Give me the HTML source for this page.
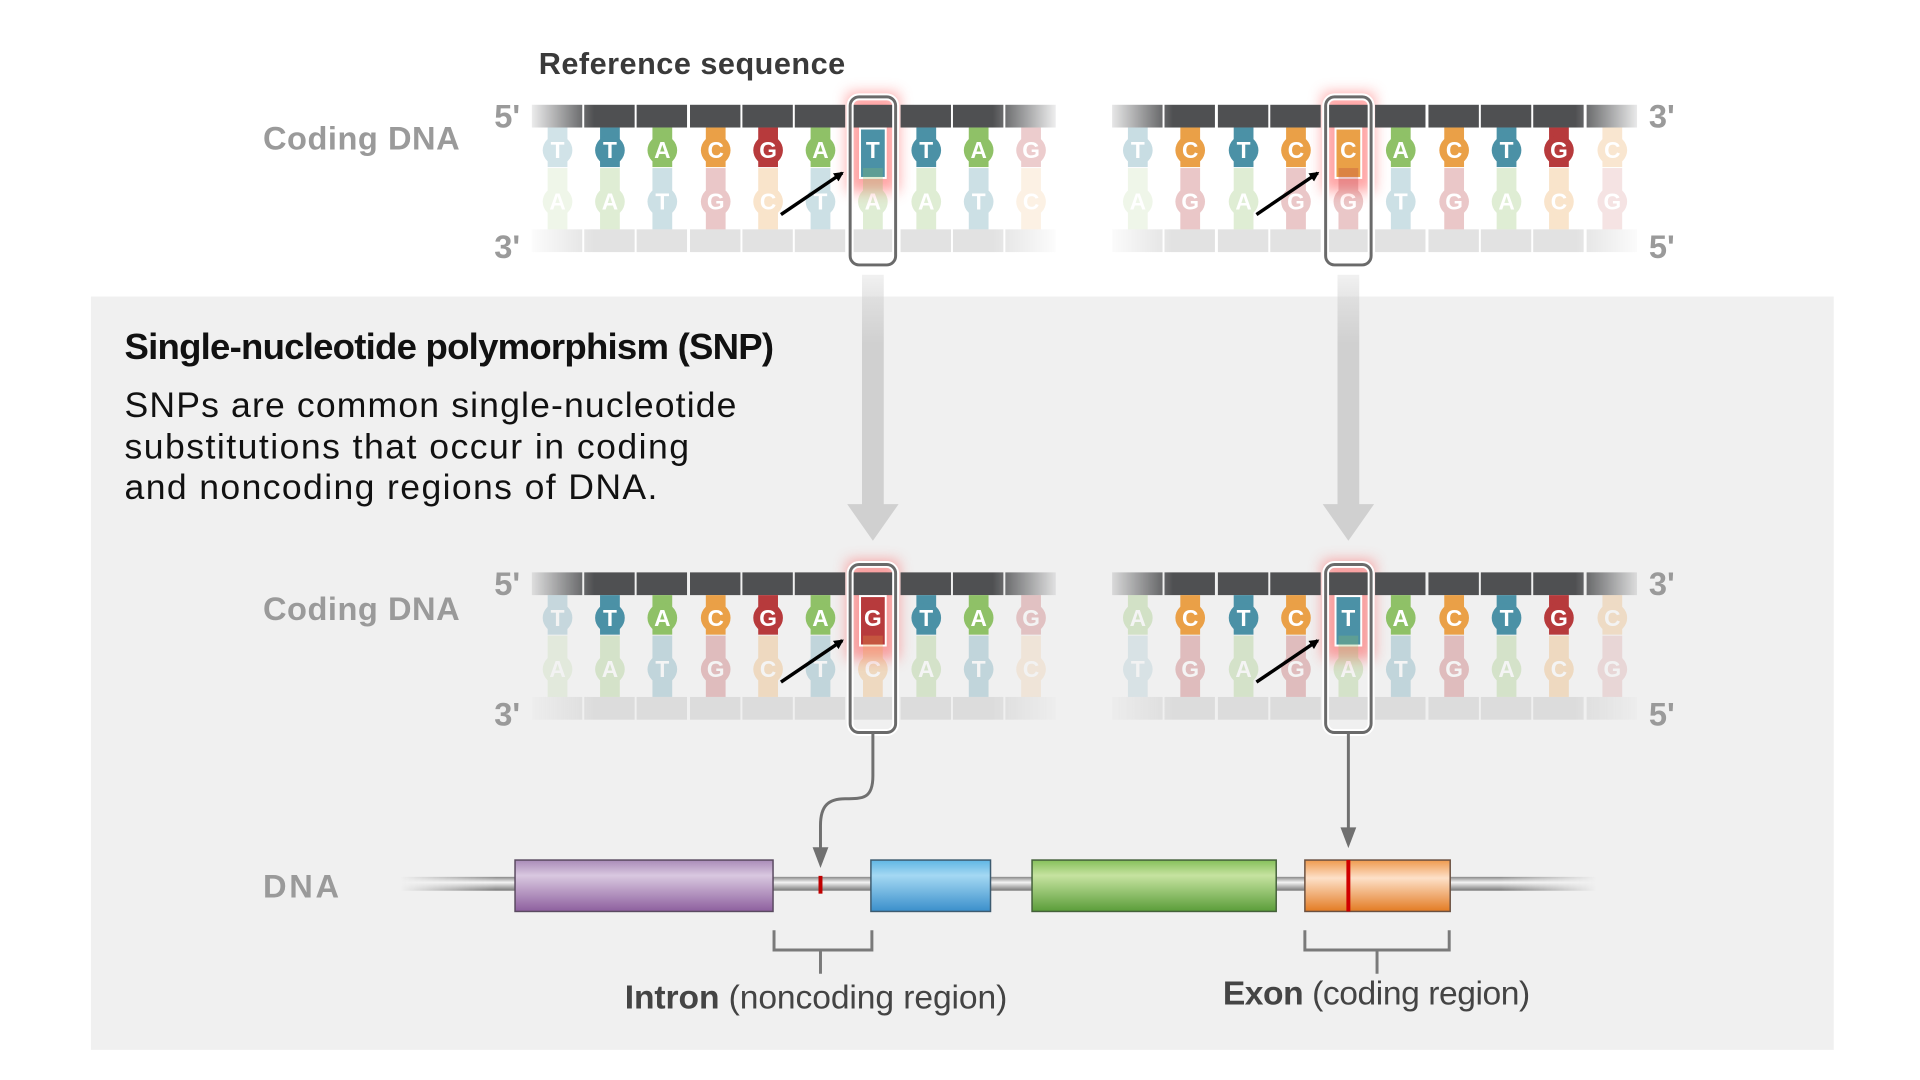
<!DOCTYPE html>
<html><head><meta charset="utf-8"><style>
html,body{margin:0;padding:0;background:#fff;}
svg{display:block;font-family:"Liberation Sans",sans-serif;}
.b{fill:#fff;font-weight:bold;font-size:23px;text-anchor:middle;}
.lab{fill:#9a9a9a;font-size:33px;font-weight:bold;}
</style></head><body>
<svg width="1920" height="1080" viewBox="0 0 1942.25 1092.5" preserveAspectRatio="none" xmlns="http://www.w3.org/2000/svg">
<defs>
<linearGradient id="fade" x1="0" x2="1" y1="0" y2="0">
<stop offset="0" stop-color="#fff" stop-opacity="0"/><stop offset="0.13" stop-color="#fff" stop-opacity="1"/>
<stop offset="0.87" stop-color="#fff" stop-opacity="1"/><stop offset="1" stop-color="#fff" stop-opacity="0"/></linearGradient>
<mask id="mL" maskUnits="userSpaceOnUse" x="0" y="-20" width="1920" height="200"><rect x="530" y="-20" width="545" height="200" fill="url(#fade)"/></mask>
<mask id="mR" maskUnits="userSpaceOnUse" x="0" y="-20" width="1920" height="200"><rect x="1115" y="-20" width="550" height="200" fill="url(#fade)"/></mask>
<filter id="blur" x="-1" y="-1" width="3" height="3"><feGaussianBlur stdDeviation="7"/></filter>
<linearGradient id="tube" x1="0" y1="0" x2="0" y2="1"><stop offset="0" stop-color="#888"/><stop offset="0.4" stop-color="#f4f4f4"/><stop offset="1" stop-color="#777"/></linearGradient>
<linearGradient id="tubeF" x1="0" x2="1"><stop offset="0" stop-color="#fff" stop-opacity="0"/><stop offset="0.08" stop-color="#fff"/><stop offset="0.92" stop-color="#fff"/><stop offset="1" stop-color="#fff" stop-opacity="0"/></linearGradient>
<mask id="mT" maskUnits="userSpaceOnUse" x="0" y="0" width="1920" height="1080"><rect x="405" y="870" width="1210" height="50" fill="url(#tubeF)"/></mask>
<linearGradient id="pu" x1="0" y1="0" x2="0" y2="1"><stop offset="0" stop-color="#a98bb8"/><stop offset="0.3" stop-color="#d9c8e0"/><stop offset="1" stop-color="#8d5f9e"/></linearGradient>
<linearGradient id="bl" x1="0" y1="0" x2="0" y2="1"><stop offset="0" stop-color="#5fb6e4"/><stop offset="0.3" stop-color="#a4d8f3"/><stop offset="1" stop-color="#3a8fcb"/></linearGradient>
<linearGradient id="gr" x1="0" y1="0" x2="0" y2="1"><stop offset="0" stop-color="#86c05a"/><stop offset="0.3" stop-color="#c6e3a0"/><stop offset="1" stop-color="#5a9d39"/></linearGradient>
<linearGradient id="or" x1="0" y1="0" x2="0" y2="1"><stop offset="0" stop-color="#ef9a4e"/><stop offset="0.35" stop-color="#fde0c8"/><stop offset="1" stop-color="#e37b23"/></linearGradient>
<linearGradient id="shaft" x1="0" y1="0" x2="0" y2="1"><stop offset="0" stop-color="#d0d0d0" stop-opacity="0.3"/><stop offset="0.3" stop-color="#d0d0d0"/></linearGradient>
<marker id="ah" markerWidth="10" markerHeight="10" refX="8" refY="5" orient="auto" markerUnits="userSpaceOnUse"><path d="M0,0 L10,5 L0,10 z" fill="#000"/></marker>
</defs>

<rect x="92" y="300" width="1763" height="762" fill="#f0f0f0"/>

<text x="545" y="75" font-size="31" font-weight="bold" fill="#3a3a3a" textLength="310">Reference sequence</text>
<text x="266" y="151" class="lab" textLength="199" fill="#8c8c8c">Coding DNA</text>
<text x="266" y="627" class="lab" textLength="199" fill="#8c8c8c">Coding DNA</text>
<text x="266" y="908" class="lab" textLength="77" fill="#8c8c8c">DNA</text>

<text x="126" y="363" font-size="37" font-weight="bold" fill="#111" textLength="657">Single-nucleotide polymorphism (SNP)</text>
<text x="126" y="422" font-size="36" fill="#111" textLength="619">SNPs are common single-nucleotide</text>
<text x="126" y="464" font-size="36" fill="#111" textLength="571">substitutions that occur in coding</text>
<text x="126" y="505" font-size="36" fill="#111" textLength="539">and noncoding regions of DNA.</text>

<rect x="872" y="278" width="22" height="234" fill="url(#shaft)"/>
<polygon points="857,510 909,510 883,547" fill="#d0d0d0"/>
<rect x="1353" y="278" width="22" height="234" fill="url(#shaft)"/>
<polygon points="1338,510 1390,510 1364,547" fill="#d0d0d0"/>

<g transform="translate(0,106)">
<rect x="857" y="-12" width="52" height="100" fill="#ff5a5a" opacity="0.55" filter="url(#blur)"/>
<rect x="1338" y="-12" width="52" height="100" fill="#ff5a5a" opacity="0.55" filter="url(#blur)"/>
<g mask="url(#mL)" fill="#4f5052">
<rect x="538" y="0" width="51" height="23"/><rect x="591" y="0" width="51" height="23"/><rect x="644" y="0" width="51" height="23"/><rect x="698" y="0" width="51" height="23"/><rect x="751" y="0" width="51" height="23"/><rect x="804" y="0" width="51" height="23"/><rect x="857" y="0" width="51" height="23"/><rect x="911" y="0" width="51" height="23"/><rect x="964" y="0" width="51" height="23"/><rect x="1017" y="0" width="51" height="23"/>
</g>
<g mask="url(#mL)" fill="#e2e2e2">
<rect x="538" y="126" width="51" height="23"/><rect x="591" y="126" width="51" height="23"/><rect x="644" y="126" width="51" height="23"/><rect x="698" y="126" width="51" height="23"/><rect x="751" y="126" width="51" height="23"/><rect x="804" y="126" width="51" height="23"/><rect x="857" y="126" width="51" height="23"/><rect x="911" y="126" width="51" height="23"/><rect x="964" y="126" width="51" height="23"/><rect x="1017" y="126" width="51" height="23"/>
</g>
<g mask="url(#mR)" fill="#4f5052">
<rect x="1125" y="0" width="51" height="23"/><rect x="1178" y="0" width="51" height="23"/><rect x="1232" y="0" width="51" height="23"/><rect x="1285" y="0" width="51" height="23"/><rect x="1338" y="0" width="51" height="23"/><rect x="1391" y="0" width="51" height="23"/><rect x="1445" y="0" width="51" height="23"/><rect x="1498" y="0" width="51" height="23"/><rect x="1551" y="0" width="51" height="23"/><rect x="1605" y="0" width="51" height="23"/>
</g>
<g mask="url(#mR)" fill="#e2e2e2">
<rect x="1125" y="126" width="51" height="23"/><rect x="1178" y="126" width="51" height="23"/><rect x="1232" y="126" width="51" height="23"/><rect x="1285" y="126" width="51" height="23"/><rect x="1338" y="126" width="51" height="23"/><rect x="1391" y="126" width="51" height="23"/><rect x="1445" y="126" width="51" height="23"/><rect x="1498" y="126" width="51" height="23"/><rect x="1551" y="126" width="51" height="23"/><rect x="1605" y="126" width="51" height="23"/>
</g>
<g opacity="0.25"><rect x="554" y="23" width="20" height="40" fill="#4b91a6"/><circle cx="564" cy="46" r="15" fill="#4b91a6"/><text x="564" y="54" class="b">T</text></g>
<g><rect x="607" y="23" width="20" height="40" fill="#4b91a6"/><circle cx="617" cy="46" r="15" fill="#4b91a6"/><text x="617" y="54" class="b">T</text></g>
<g><rect x="660" y="23" width="20" height="40" fill="#8fc167"/><circle cx="670" cy="46" r="15" fill="#8fc167"/><text x="670" y="54" class="b">A</text></g>
<g><rect x="714" y="23" width="20" height="40" fill="#eaa047"/><circle cx="724" cy="46" r="15" fill="#eaa047"/><text x="724" y="54" class="b">C</text></g>
<g><rect x="767" y="23" width="20" height="40" fill="#b73a3c"/><circle cx="777" cy="46" r="15" fill="#b73a3c"/><text x="777" y="54" class="b">G</text></g>
<g><rect x="820" y="23" width="20" height="40" fill="#8fc167"/><circle cx="830" cy="46" r="15" fill="#8fc167"/><text x="830" y="54" class="b">A</text></g>
<g><rect x="870" y="24" width="26" height="50" fill="#4b91a6" stroke="#fff" stroke-width="2"/><text x="883" y="54" class="b">T</text></g>
<g><rect x="927" y="23" width="20" height="40" fill="#4b91a6"/><circle cx="937" cy="46" r="15" fill="#4b91a6"/><text x="937" y="54" class="b">T</text></g>
<g><rect x="980" y="23" width="20" height="40" fill="#8fc167"/><circle cx="990" cy="46" r="15" fill="#8fc167"/><text x="990" y="54" class="b">A</text></g>
<g opacity="0.25"><rect x="1033" y="23" width="20" height="40" fill="#b73a3c"/><circle cx="1043" cy="46" r="15" fill="#b73a3c"/><text x="1043" y="54" class="b">G</text></g>
<g opacity="0.28">
<g opacity="0.5"><rect x="554" y="64" width="20" height="62" fill="#8fc167"/><circle cx="564" cy="98" r="15" fill="#8fc167"/><text x="564" y="106" class="b">A</text></g>
<rect x="607" y="64" width="20" height="62" fill="#8fc167"/><circle cx="617" cy="98" r="15" fill="#8fc167"/><text x="617" y="106" class="b">A</text>
<rect x="660" y="64" width="20" height="62" fill="#4b91a6"/><circle cx="670" cy="98" r="15" fill="#4b91a6"/><text x="670" y="106" class="b">T</text>
<rect x="714" y="64" width="20" height="62" fill="#b73a3c"/><circle cx="724" cy="98" r="15" fill="#b73a3c"/><text x="724" y="106" class="b">G</text>
<rect x="767" y="64" width="20" height="62" fill="#eaa047"/><circle cx="777" cy="98" r="15" fill="#eaa047"/><text x="777" y="106" class="b">C</text>
<rect x="820" y="64" width="20" height="62" fill="#4b91a6"/><circle cx="830" cy="98" r="15" fill="#4b91a6"/><text x="830" y="106" class="b">T</text>
<rect x="873" y="64" width="20" height="62" fill="#8fc167"/><circle cx="883" cy="98" r="15" fill="#8fc167"/><text x="883" y="106" class="b">A</text>
<rect x="927" y="64" width="20" height="62" fill="#8fc167"/><circle cx="937" cy="98" r="15" fill="#8fc167"/><text x="937" y="106" class="b">A</text>
<rect x="980" y="64" width="20" height="62" fill="#4b91a6"/><circle cx="990" cy="98" r="15" fill="#4b91a6"/><text x="990" y="106" class="b">T</text>
<g opacity="0.5"><rect x="1033" y="64" width="20" height="62" fill="#eaa047"/><circle cx="1043" cy="98" r="15" fill="#eaa047"/><text x="1043" y="106" class="b">C</text></g>
</g>
<g opacity="0.3"><rect x="1141" y="23" width="20" height="40" fill="#4b91a6"/><circle cx="1151" cy="46" r="15" fill="#4b91a6"/><text x="1151" y="54" class="b">T</text></g>
<g><rect x="1194" y="23" width="20" height="40" fill="#eaa047"/><circle cx="1204" cy="46" r="15" fill="#eaa047"/><text x="1204" y="54" class="b">C</text></g>
<g><rect x="1248" y="23" width="20" height="40" fill="#4b91a6"/><circle cx="1258" cy="46" r="15" fill="#4b91a6"/><text x="1258" y="54" class="b">T</text></g>
<g><rect x="1301" y="23" width="20" height="40" fill="#eaa047"/><circle cx="1311" cy="46" r="15" fill="#eaa047"/><text x="1311" y="54" class="b">C</text></g>
<g><rect x="1351" y="24" width="26" height="50" fill="#eaa047" stroke="#fff" stroke-width="2"/><text x="1364" y="54" class="b">C</text></g>
<g><rect x="1407" y="23" width="20" height="40" fill="#8fc167"/><circle cx="1417" cy="46" r="15" fill="#8fc167"/><text x="1417" y="54" class="b">A</text></g>
<g><rect x="1461" y="23" width="20" height="40" fill="#eaa047"/><circle cx="1471" cy="46" r="15" fill="#eaa047"/><text x="1471" y="54" class="b">C</text></g>
<g><rect x="1514" y="23" width="20" height="40" fill="#4b91a6"/><circle cx="1524" cy="46" r="15" fill="#4b91a6"/><text x="1524" y="54" class="b">T</text></g>
<g><rect x="1567" y="23" width="20" height="40" fill="#b73a3c"/><circle cx="1577" cy="46" r="15" fill="#b73a3c"/><text x="1577" y="54" class="b">G</text></g>
<g opacity="0.25"><rect x="1621" y="23" width="20" height="40" fill="#eaa047"/><circle cx="1631" cy="46" r="15" fill="#eaa047"/><text x="1631" y="54" class="b">C</text></g>
<g opacity="0.28">
<g opacity="0.5"><rect x="1141" y="64" width="20" height="62" fill="#8fc167"/><circle cx="1151" cy="98" r="15" fill="#8fc167"/><text x="1151" y="106" class="b">A</text></g>
<rect x="1194" y="64" width="20" height="62" fill="#b73a3c"/><circle cx="1204" cy="98" r="15" fill="#b73a3c"/><text x="1204" y="106" class="b">G</text>
<rect x="1248" y="64" width="20" height="62" fill="#8fc167"/><circle cx="1258" cy="98" r="15" fill="#8fc167"/><text x="1258" y="106" class="b">A</text>
<rect x="1301" y="64" width="20" height="62" fill="#b73a3c"/><circle cx="1311" cy="98" r="15" fill="#b73a3c"/><text x="1311" y="106" class="b">G</text>
<rect x="1354" y="64" width="20" height="62" fill="#b73a3c"/><circle cx="1364" cy="98" r="15" fill="#b73a3c"/><text x="1364" y="106" class="b">G</text>
<rect x="1407" y="64" width="20" height="62" fill="#4b91a6"/><circle cx="1417" cy="98" r="15" fill="#4b91a6"/><text x="1417" y="106" class="b">T</text>
<rect x="1461" y="64" width="20" height="62" fill="#b73a3c"/><circle cx="1471" cy="98" r="15" fill="#b73a3c"/><text x="1471" y="106" class="b">G</text>
<rect x="1514" y="64" width="20" height="62" fill="#8fc167"/><circle cx="1524" cy="98" r="15" fill="#8fc167"/><text x="1524" y="106" class="b">A</text>
<rect x="1567" y="64" width="20" height="62" fill="#eaa047"/><circle cx="1577" cy="98" r="15" fill="#eaa047"/><text x="1577" y="106" class="b">C</text>
<g opacity="0.5"><rect x="1621" y="64" width="20" height="62" fill="#b73a3c"/><circle cx="1631" cy="98" r="15" fill="#b73a3c"/><text x="1631" y="106" class="b">G</text></g>
</g>
<rect x="860" y="-8" width="46" height="170" rx="9" fill="none" stroke="#fff" stroke-width="7"/>
<rect x="860" y="-8" width="46" height="170" rx="9" fill="none" stroke="#6a6a6a" stroke-width="3"/>
<rect x="1341" y="-8" width="46" height="170" rx="9" fill="none" stroke="#fff" stroke-width="7"/>
<rect x="1341" y="-8" width="46" height="170" rx="9" fill="none" stroke="#6a6a6a" stroke-width="3"/>
<line x1="790" y1="111" x2="852" y2="69" stroke="#000" stroke-width="3.5" marker-end="url(#ah)"/>
<line x1="1271" y1="111" x2="1333" y2="69" stroke="#000" stroke-width="3.5" marker-end="url(#ah)"/>
<text x="500" y="23" class="lab" font-size="32">5'</text>
<text x="500" y="155" class="lab" font-size="32">3'</text>
<text x="1668" y="23" class="lab" font-size="32">3'</text>
<text x="1668" y="155" class="lab" font-size="32">5'</text>
</g>

<g transform="translate(0,579)">
<rect x="857" y="-12" width="52" height="100" fill="#ff5a5a" opacity="0.55" filter="url(#blur)"/>
<rect x="1338" y="-12" width="52" height="100" fill="#ff5a5a" opacity="0.55" filter="url(#blur)"/>
<g mask="url(#mL)" fill="#4f5052">
<rect x="538" y="0" width="51" height="23"/><rect x="591" y="0" width="51" height="23"/><rect x="644" y="0" width="51" height="23"/><rect x="698" y="0" width="51" height="23"/><rect x="751" y="0" width="51" height="23"/><rect x="804" y="0" width="51" height="23"/><rect x="857" y="0" width="51" height="23"/><rect x="911" y="0" width="51" height="23"/><rect x="964" y="0" width="51" height="23"/><rect x="1017" y="0" width="51" height="23"/>
</g>
<g mask="url(#mL)" fill="#dcdcdc">
<rect x="538" y="126" width="51" height="23"/><rect x="591" y="126" width="51" height="23"/><rect x="644" y="126" width="51" height="23"/><rect x="698" y="126" width="51" height="23"/><rect x="751" y="126" width="51" height="23"/><rect x="804" y="126" width="51" height="23"/><rect x="857" y="126" width="51" height="23"/><rect x="911" y="126" width="51" height="23"/><rect x="964" y="126" width="51" height="23"/><rect x="1017" y="126" width="51" height="23"/>
</g>
<g mask="url(#mR)" fill="#4f5052">
<rect x="1125" y="0" width="51" height="23"/><rect x="1178" y="0" width="51" height="23"/><rect x="1232" y="0" width="51" height="23"/><rect x="1285" y="0" width="51" height="23"/><rect x="1338" y="0" width="51" height="23"/><rect x="1391" y="0" width="51" height="23"/><rect x="1445" y="0" width="51" height="23"/><rect x="1498" y="0" width="51" height="23"/><rect x="1551" y="0" width="51" height="23"/><rect x="1605" y="0" width="51" height="23"/>
</g>
<g mask="url(#mR)" fill="#dcdcdc">
<rect x="1125" y="126" width="51" height="23"/><rect x="1178" y="126" width="51" height="23"/><rect x="1232" y="126" width="51" height="23"/><rect x="1285" y="126" width="51" height="23"/><rect x="1338" y="126" width="51" height="23"/><rect x="1391" y="126" width="51" height="23"/><rect x="1445" y="126" width="51" height="23"/><rect x="1498" y="126" width="51" height="23"/><rect x="1551" y="126" width="51" height="23"/><rect x="1605" y="126" width="51" height="23"/>
</g>
<g opacity="0.25"><rect x="554" y="23" width="20" height="40" fill="#4b91a6"/><circle cx="564" cy="46" r="15" fill="#4b91a6"/><text x="564" y="54" class="b">T</text></g>
<g><rect x="607" y="23" width="20" height="40" fill="#4b91a6"/><circle cx="617" cy="46" r="15" fill="#4b91a6"/><text x="617" y="54" class="b">T</text></g>
<g><rect x="660" y="23" width="20" height="40" fill="#8fc167"/><circle cx="670" cy="46" r="15" fill="#8fc167"/><text x="670" y="54" class="b">A</text></g>
<g><rect x="714" y="23" width="20" height="40" fill="#eaa047"/><circle cx="724" cy="46" r="15" fill="#eaa047"/><text x="724" y="54" class="b">C</text></g>
<g><rect x="767" y="23" width="20" height="40" fill="#b73a3c"/><circle cx="777" cy="46" r="15" fill="#b73a3c"/><text x="777" y="54" class="b">G</text></g>
<g><rect x="820" y="23" width="20" height="40" fill="#8fc167"/><circle cx="830" cy="46" r="15" fill="#8fc167"/><text x="830" y="54" class="b">A</text></g>
<g><rect x="870" y="24" width="26" height="50" fill="#b73a3c" stroke="#fff" stroke-width="2"/><text x="883" y="54" class="b">G</text></g>
<g><rect x="927" y="23" width="20" height="40" fill="#4b91a6"/><circle cx="937" cy="46" r="15" fill="#4b91a6"/><text x="937" y="54" class="b">T</text></g>
<g><rect x="980" y="23" width="20" height="40" fill="#8fc167"/><circle cx="990" cy="46" r="15" fill="#8fc167"/><text x="990" y="54" class="b">A</text></g>
<g opacity="0.25"><rect x="1033" y="23" width="20" height="40" fill="#b73a3c"/><circle cx="1043" cy="46" r="15" fill="#b73a3c"/><text x="1043" y="54" class="b">G</text></g>
<g opacity="0.28">
<g opacity="0.5"><rect x="554" y="64" width="20" height="62" fill="#8fc167"/><circle cx="564" cy="98" r="15" fill="#8fc167"/><text x="564" y="106" class="b">A</text></g>
<rect x="607" y="64" width="20" height="62" fill="#8fc167"/><circle cx="617" cy="98" r="15" fill="#8fc167"/><text x="617" y="106" class="b">A</text>
<rect x="660" y="64" width="20" height="62" fill="#4b91a6"/><circle cx="670" cy="98" r="15" fill="#4b91a6"/><text x="670" y="106" class="b">T</text>
<rect x="714" y="64" width="20" height="62" fill="#b73a3c"/><circle cx="724" cy="98" r="15" fill="#b73a3c"/><text x="724" y="106" class="b">G</text>
<rect x="767" y="64" width="20" height="62" fill="#eaa047"/><circle cx="777" cy="98" r="15" fill="#eaa047"/><text x="777" y="106" class="b">C</text>
<rect x="820" y="64" width="20" height="62" fill="#4b91a6"/><circle cx="830" cy="98" r="15" fill="#4b91a6"/><text x="830" y="106" class="b">T</text>
<rect x="873" y="64" width="20" height="62" fill="#eaa047"/><circle cx="883" cy="98" r="15" fill="#eaa047"/><text x="883" y="106" class="b">C</text>
<rect x="927" y="64" width="20" height="62" fill="#8fc167"/><circle cx="937" cy="98" r="15" fill="#8fc167"/><text x="937" y="106" class="b">A</text>
<rect x="980" y="64" width="20" height="62" fill="#4b91a6"/><circle cx="990" cy="98" r="15" fill="#4b91a6"/><text x="990" y="106" class="b">T</text>
<g opacity="0.5"><rect x="1033" y="64" width="20" height="62" fill="#eaa047"/><circle cx="1043" cy="98" r="15" fill="#eaa047"/><text x="1043" y="106" class="b">C</text></g>
</g>
<g opacity="0.3"><rect x="1141" y="23" width="20" height="40" fill="#8fc167"/><circle cx="1151" cy="46" r="15" fill="#8fc167"/><text x="1151" y="54" class="b">A</text></g>
<g><rect x="1194" y="23" width="20" height="40" fill="#eaa047"/><circle cx="1204" cy="46" r="15" fill="#eaa047"/><text x="1204" y="54" class="b">C</text></g>
<g><rect x="1248" y="23" width="20" height="40" fill="#4b91a6"/><circle cx="1258" cy="46" r="15" fill="#4b91a6"/><text x="1258" y="54" class="b">T</text></g>
<g><rect x="1301" y="23" width="20" height="40" fill="#eaa047"/><circle cx="1311" cy="46" r="15" fill="#eaa047"/><text x="1311" y="54" class="b">C</text></g>
<g><rect x="1351" y="24" width="26" height="50" fill="#4b91a6" stroke="#fff" stroke-width="2"/><text x="1364" y="54" class="b">T</text></g>
<g><rect x="1407" y="23" width="20" height="40" fill="#8fc167"/><circle cx="1417" cy="46" r="15" fill="#8fc167"/><text x="1417" y="54" class="b">A</text></g>
<g><rect x="1461" y="23" width="20" height="40" fill="#eaa047"/><circle cx="1471" cy="46" r="15" fill="#eaa047"/><text x="1471" y="54" class="b">C</text></g>
<g><rect x="1514" y="23" width="20" height="40" fill="#4b91a6"/><circle cx="1524" cy="46" r="15" fill="#4b91a6"/><text x="1524" y="54" class="b">T</text></g>
<g><rect x="1567" y="23" width="20" height="40" fill="#b73a3c"/><circle cx="1577" cy="46" r="15" fill="#b73a3c"/><text x="1577" y="54" class="b">G</text></g>
<g opacity="0.25"><rect x="1621" y="23" width="20" height="40" fill="#eaa047"/><circle cx="1631" cy="46" r="15" fill="#eaa047"/><text x="1631" y="54" class="b">C</text></g>
<g opacity="0.28">
<g opacity="0.5"><rect x="1141" y="64" width="20" height="62" fill="#4b91a6"/><circle cx="1151" cy="98" r="15" fill="#4b91a6"/><text x="1151" y="106" class="b">T</text></g>
<rect x="1194" y="64" width="20" height="62" fill="#b73a3c"/><circle cx="1204" cy="98" r="15" fill="#b73a3c"/><text x="1204" y="106" class="b">G</text>
<rect x="1248" y="64" width="20" height="62" fill="#8fc167"/><circle cx="1258" cy="98" r="15" fill="#8fc167"/><text x="1258" y="106" class="b">A</text>
<rect x="1301" y="64" width="20" height="62" fill="#b73a3c"/><circle cx="1311" cy="98" r="15" fill="#b73a3c"/><text x="1311" y="106" class="b">G</text>
<rect x="1354" y="64" width="20" height="62" fill="#8fc167"/><circle cx="1364" cy="98" r="15" fill="#8fc167"/><text x="1364" y="106" class="b">A</text>
<rect x="1407" y="64" width="20" height="62" fill="#4b91a6"/><circle cx="1417" cy="98" r="15" fill="#4b91a6"/><text x="1417" y="106" class="b">T</text>
<rect x="1461" y="64" width="20" height="62" fill="#b73a3c"/><circle cx="1471" cy="98" r="15" fill="#b73a3c"/><text x="1471" y="106" class="b">G</text>
<rect x="1514" y="64" width="20" height="62" fill="#8fc167"/><circle cx="1524" cy="98" r="15" fill="#8fc167"/><text x="1524" y="106" class="b">A</text>
<rect x="1567" y="64" width="20" height="62" fill="#eaa047"/><circle cx="1577" cy="98" r="15" fill="#eaa047"/><text x="1577" y="106" class="b">C</text>
<g opacity="0.5"><rect x="1621" y="64" width="20" height="62" fill="#b73a3c"/><circle cx="1631" cy="98" r="15" fill="#b73a3c"/><text x="1631" y="106" class="b">G</text></g>
</g>
<rect x="860" y="-8" width="46" height="170" rx="9" fill="none" stroke="#fff" stroke-width="7"/>
<rect x="860" y="-8" width="46" height="170" rx="9" fill="none" stroke="#6a6a6a" stroke-width="3"/>
<rect x="1341" y="-8" width="46" height="170" rx="9" fill="none" stroke="#fff" stroke-width="7"/>
<rect x="1341" y="-8" width="46" height="170" rx="9" fill="none" stroke="#6a6a6a" stroke-width="3"/>
<line x1="790" y1="111" x2="852" y2="69" stroke="#000" stroke-width="3.5" marker-end="url(#ah)"/>
<line x1="1271" y1="111" x2="1333" y2="69" stroke="#000" stroke-width="3.5" marker-end="url(#ah)"/>
<text x="500" y="23" class="lab" font-size="32">5'</text>
<text x="500" y="155" class="lab" font-size="32">3'</text>
<text x="1668" y="23" class="lab" font-size="32">3'</text>
<text x="1668" y="155" class="lab" font-size="32">5'</text>
</g>

<path d="M883,742 L883,785 C883,808 873,808 855,808 C838,808 830,815 830,835 L830,862" fill="none" stroke="#707070" stroke-width="3"/>
<polygon points="822,857 838,857 830,878" fill="#707070"/>
<line x1="1364" y1="742" x2="1364" y2="842" stroke="#707070" stroke-width="3"/>
<polygon points="1356,837 1372,837 1364,858" fill="#707070"/>

<rect x="405" y="887" width="1210" height="14" fill="url(#tube)" mask="url(#mT)"/>
<rect x="521" y="870" width="261" height="52" fill="url(#pu)" stroke="#5a4a60" stroke-width="1.5"/>
<rect x="881" y="870" width="121" height="52" fill="url(#bl)" stroke="#3d5b70" stroke-width="1.5"/>
<rect x="1044" y="870" width="247" height="52" fill="url(#gr)" stroke="#44603a" stroke-width="1.5"/>
<rect x="1320" y="870" width="147" height="52" fill="url(#or)" stroke="#6b5040" stroke-width="1.5"/>
<rect x="828" y="886" width="4" height="18" fill="#c00000"/>
<rect x="1362" y="870" width="4" height="52" fill="#d00000"/>

<path d="M783,941 L783,961 L882,961 L882,941 M830,961 L830,985" fill="none" stroke="#7a7a7a" stroke-width="3"/>
<path d="M1320,941 L1320,961 L1466,961 L1466,941 M1393,961 L1393,985" fill="none" stroke="#7a7a7a" stroke-width="3"/>
<text x="632" y="1020" font-size="34" fill="#444" textLength="387"><tspan font-weight="bold">Intron</tspan> (noncoding region)</text>
<text x="1237" y="1016" font-size="34" fill="#444" textLength="311"><tspan font-weight="bold">Exon</tspan> (coding region)</text>
</svg>
</body></html>
